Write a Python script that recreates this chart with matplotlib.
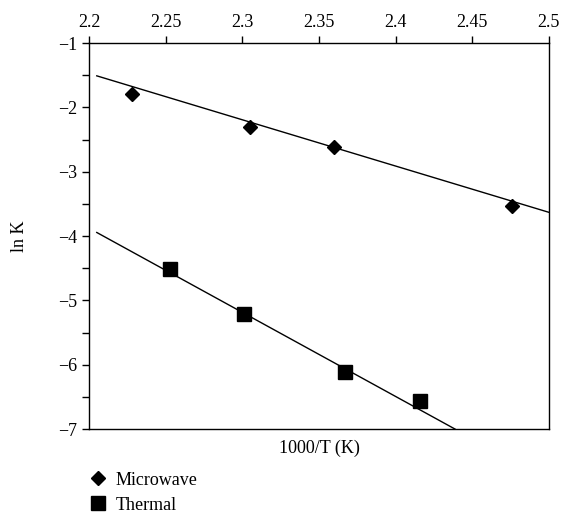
import matplotlib
matplotlib.use("Agg")
import matplotlib.pyplot as plt
import numpy as np
from matplotlib.lines import Line2D

plt.rcParams['font.family'] = ['Liberation Serif', 'DejaVu Serif']
plt.rcParams['mathtext.fontset'] = 'stix'

# Data
mw_x = [2.228, 2.305, 2.360, 2.476]
mw_y = [-1.79, -2.30, -2.61, -3.53]
th_x = [2.253, 2.301, 2.367, 2.416]
th_y = [-4.52, -5.22, -6.12, -6.56]

# Trend lines (slope, value at x0, x range)
mw_fit = (-7.19, -1.51)
mw_range = [2.205, 2.5]
th_fit = (-13.07, -3.945)
th_range = [2.205, 2.4388]
fit_x0 = 2.205

xticks = [2.2, 2.25, 2.3, 2.35, 2.4, 2.45, 2.5]
xticklabels = ["2.2", "2.25", "2.3", "2.35", "2.4", "2.45", "2.5"]
yticks = [-1, -2, -3, -4, -5, -6, -7]
yticklabels = ["\u22121", "\u22122", "\u22123", "\u22124", "\u22125", "\u22126", "\u22127"]
yminor = [-1.5, -2.5, -3.5, -4.5, -5.5, -6.5]
labels = ["Microwave", "Thermal"]

fig = plt.figure(figsize=(5.64, 5.16), dpi=100)
ax = fig.add_axes([0.158, 0.1686, 0.815, 0.748])

def fit_line(fit, rng):
    xs = np.array(rng)
    return xs, fit[1] + fit[0] * (xs - fit_x0)

xs, ys = fit_line(mw_fit, mw_range)
ax.plot(xs, ys, color='black', lw=1.0)
xs, ys = fit_line(th_fit, th_range)
ax.plot(xs, ys, color='black', lw=1.0)

ax.plot(mw_x, mw_y, linestyle='none', marker='D', markersize=7.5, color='black')
ax.plot(th_x, th_y, linestyle='none', marker='s', markersize=10.5, color='black')

ax.set_xlim(2.2, 2.5)
ax.set_ylim(-7, -1)
ax.xaxis.tick_top()
ax.set_xticks(xticks)
ax.set_xticklabels(xticklabels)
ax.set_yticks(yticks)
ax.set_yticklabels(yticklabels)
ax.set_yticks(yminor, minor=True)
ax.tick_params(axis='both', direction='out', length=5, width=1, labelsize=13, colors='black')
ax.tick_params(axis='y', which='minor', direction='out', length=5, width=1)
for s in ax.spines.values():
    s.set_linewidth(1.0)

ax.set_xlabel("1000/T (K)", fontsize=13)
ax.xaxis.set_label_position('bottom')
ax.xaxis.labelpad = 8
ax.set_ylabel("ln K", fontsize=13, labelpad=22)

handles = [Line2D([], [], linestyle='none', marker='D', markersize=7.5, color='black'),
           Line2D([], [], linestyle='none', marker='s', markersize=10.5, color='black')]
fig.legend(handles, labels, loc='upper left', bbox_to_anchor=(0.142, 0.1),
           frameon=False, fontsize=13, handletextpad=0.35, labelspacing=0.45,
           handlelength=1.2, borderaxespad=0)

fig.savefig("out.png", dpi=100)
